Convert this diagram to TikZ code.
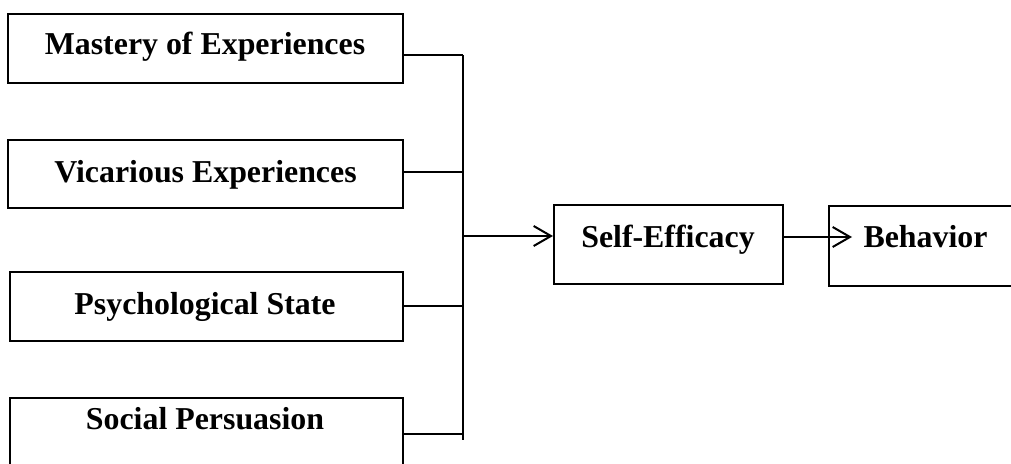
\documentclass[tikz,border=0pt]{standalone}
\usepackage{fontspec}
\setmainfont{Liberation Serif}
\usetikzlibrary{arrows.meta}
\tikzset{
  box/.style={draw, line width=1.5pt, inner sep=0pt},
  lbl/.style={anchor=base, inner sep=0pt, font=\fontsize{23.9}{28}\selectfont\bfseries},
  conn/.style={line width=1.5pt},
  arr/.style={line width=1.5pt, -{Straight Barb[length=13pt, width=15pt, line width=1.5pt]}}
}
\begin{document}
\begin{tikzpicture}[x=0.75pt, y=-0.75pt]
\clip (0,0) rectangle (1011,464);
\fill[white] (0,0) rectangle (1011,464);
% boxes
\node[box, minimum width=395*0.75pt, minimum height=69*0.75pt] (b1) at (205.5,48.5) {};
\node[box, minimum width=395*0.75pt, minimum height=68*0.75pt] (b2) at (205.5,174) {};
\node[box, minimum width=393*0.75pt, minimum height=69*0.75pt] (b3) at (206.5,306.5) {};
\node[box, minimum width=393*0.75pt, minimum height=72*0.75pt] (b4) at (206.5,434) {};
\node[box, minimum width=229*0.75pt, minimum height=79*0.75pt] (se) at (668.5,244.5) {};
\node[box, minimum width=192*0.75pt, minimum height=80*0.75pt] (bh) at (925,246) {};
% labels
\node[lbl] (t1) at (205,55) {Mastery of Experiences};
\node[lbl] (t2) at (205.5,182) {Vicarious Experiences};
\node[lbl] (t3) at (205,314) {Psychological State};
\node[lbl] (t4) at (205,429) {Social Persuasion};
\node[lbl] (t5) at (668,247) {Self-Efficacy};
\node[lbl] (t6) at (925.5,247) {Behavior};
% bus
\coordinate (j1) at (463,55);
\coordinate (j2) at (463,172);
\coordinate (j3) at (463,306);
\coordinate (j4) at (463,434);
\coordinate (jb) at (463,440);
\coordinate (js) at (463,236);
\coordinate (tipb) at (852,237);
\draw[conn] (j1 -| b1.east) -- (j1);
\draw[conn] (j2 -| b2.east) -- (j2);
\draw[conn] (j3 -| b3.east) -- (j3);
\draw[conn] (j4 -| b4.east) -- (j4);
\draw[conn] (j1) -- (jb);
\draw[arr] (js) -- (js -| se.west);
\draw[arr] (tipb -| se.east) -- (tipb);
\end{tikzpicture}
\end{document}
